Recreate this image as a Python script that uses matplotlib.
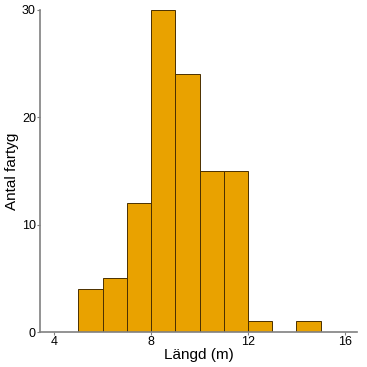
import matplotlib
matplotlib.use("Agg")
import matplotlib.pyplot as plt

# bin edges (m) and vessel counts per bin
bin_edges = [5, 6, 7, 8, 9, 10, 11, 12, 13, 14, 15]
counts = [4, 5, 12, 30, 24, 15, 15, 1, 0, 1]
x_ticks = [4, 8, 12, 16]
y_ticks = [0, 10, 20, 30]

plt.rcParams['font.family'] = ['Liberation Sans', 'DejaVu Sans']

fig = plt.figure(figsize=(3.67, 3.67), dpi=100)
ax = fig.add_axes([0.109, 0.095, 0.864, 0.878])

ax.hist(bin_edges[:-1], bins=bin_edges, weights=counts,
        color='#E9A200', edgecolor='#4a3000', linewidth=0.7)

ax.set_xlim(3.42, 16.5)
ax.set_ylim(0, 30)
ax.set_xticks(x_ticks)
ax.set_yticks(y_ticks)
ax.set_xlabel('Längd (m)', fontsize=11, labelpad=0)
ax.set_ylabel('Antal fartyg', fontsize=11, labelpad=2)

for side in ['top', 'right']:
    ax.spines[side].set_visible(False)
for side in ['left', 'bottom']:
    ax.spines[side].set_color('#808080')
    ax.spines[side].set_linewidth(1.2)
ax.tick_params(length=2, width=0.8, color='#808080', labelsize=9, pad=1)

fig.savefig('out.png', dpi=100)
